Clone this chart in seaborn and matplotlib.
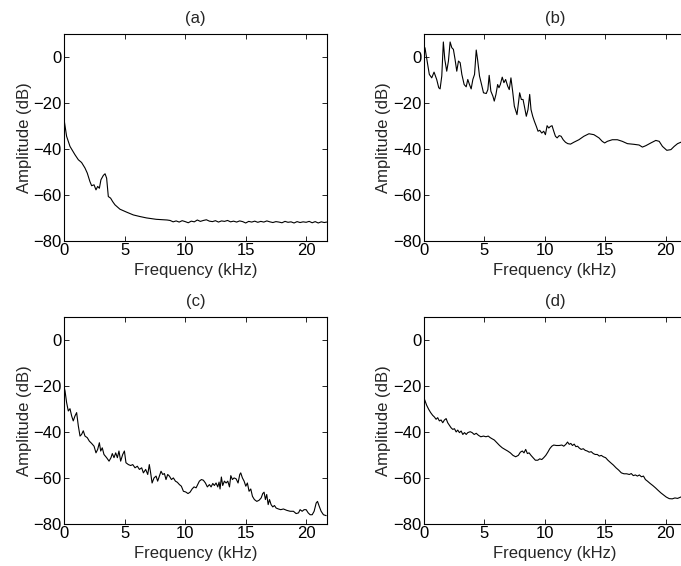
import matplotlib
matplotlib.use("Agg")
import matplotlib.pyplot as plt
import seaborn as sns
import pandas as pd

# ---------------- data ----------------
freq_a = [0, 0.19, 0.47, 0.88, 1.16, 1.43, 1.71, 1.9, 2.12, 2.26, 2.46, 2.62, 2.76, 2.9,
          3.03, 3.23, 3.37, 3.5, 3.64, 3.83, 4.0, 4.19, 4.6, 5.16, 5.71, 6.26, 6.8, 7.6, 8.5,
          8.75, 9.0, 9.25, 9.5, 9.75, 10.0, 10.25, 10.5, 10.75, 11.0, 11.25, 11.5, 11.75, 12.0,
          12.25, 12.5, 12.75, 13.0, 13.25, 13.5, 13.75, 14.0, 14.25, 14.5, 14.75, 15.0, 15.25,
          15.5, 15.75, 16.0, 16.25, 16.5, 16.75, 17.0, 17.25, 17.5, 17.75, 18.0, 18.25, 18.5,
          18.75, 19.0, 19.25, 19.5, 19.75, 20.0, 20.25, 20.5, 20.75, 21.0, 21.25, 21.5, 21.7]
amp_a = [-28, -34.6, -39, -42.6, -44.8, -46, -48.4, -50.6, -54.3, -56.1, -55.7, -57.9, -56.4, -57.2,
         -53.5, -51.6, -50.9, -52.8, -60.8, -61.5, -63, -64.4, -66.3, -67.6, -68.8, -69.5, -70.1, -70.7, -71,
         -71.2, -71.8, -71.4, -71.9, -71.3, -71.7, -72.2, -71.5, -71.8, -71.0, -71.6, -71.2, -70.9, -71.5,
         -71.7, -71.3, -71.9, -71.4, -71.6, -71.2, -71.8, -71.5, -71.9, -71.4, -71.7, -72.3, -71.6,
         -71.9, -71.5, -72.0, -71.6, -71.9, -71.4, -71.8, -72.1, -71.7, -71.9, -72.2, -71.6, -72.0,
         -71.8, -72.3, -71.7, -72.1, -71.8, -72.0, -71.6, -72.2, -71.7, -72.3, -71.8, -72.1, -71.9]

freq_b = [0, 0.08, 0.28, 0.44, 0.64, 0.83, 1.05, 1.22, 1.33, 1.47, 1.6, 1.72, 1.88, 2.02, 2.16, 2.3,
          2.43, 2.57, 2.71, 2.85, 2.99, 3.13, 3.32, 3.49, 3.62, 3.76, 3.9, 4.04, 4.18, 4.32, 4.43,
          4.59, 4.76, 4.92, 5.15, 5.28, 5.39, 5.53, 5.7, 5.81, 5.95, 6.09, 6.2, 6.31, 6.47, 6.61,
          6.75, 6.92, 7.05, 7.19, 7.33, 7.47, 7.69, 7.83, 7.91, 8.05, 8.19, 8.33, 8.46, 8.6, 8.74,
          8.85, 8.99, 9.13, 9.29, 9.43, 9.57, 9.74, 9.9, 10.04, 10.18, 10.32, 10.46, 10.59, 10.73,
          10.87, 11.01, 11.18, 11.34, 11.51, 11.7, 11.89, 12.12, 12.39, 12.81, 13.22, 13.64, 14.05,
          14.47, 14.74, 14.94, 15.16, 15.57, 15.99, 16.4, 16.82, 17.37, 17.79, 18.06, 18.34, 18.76,
          19.17, 19.45, 19.72, 20.08, 20.42, 20.69, 20.97, 21.24, 21.7]
amp_b = [2.0, 3.9, -2.6, -7.7, -9.2, -6.7, -9.9, -13.5, -14, -8.4, 6.4, -1.2, -6.3, -1.9, 6.4, 3.9,
         3.2, -1.2, -6.3, -1.9, -2.6, -7.7, -12.1, -13.1, -9.9, -12.1, -14, -9.9, -7.7, 2.9, -1.2,
         -8.4, -12.1, -15.7, -16, -14.3, -8.1, -15, -17.2, -19.3, -16.4, -12.1, -13.5, -12.1, -8.9, -11.3,
         -9.9, -12.8, -14.3, -9.2, -15, -21.5, -25.2, -19.3, -15.7, -18.6, -18.6, -22.3, -25.9, -23, -16.4,
         -23, -25.9, -28.1, -30.3, -32.4, -32, -33.2, -32.4, -33.9, -30, -31, -30.3, -30, -32.4,
         -34.6, -35.3, -34.3, -34.6, -36.1, -37.2, -37.8, -38, -37.2, -36.1, -34.6, -33.5, -33.9,
         -35.3, -36.8, -37.5, -36.8, -36.1, -36.1, -36.8, -37.8, -38.1, -38.4, -39.3, -38.7, -37.5,
         -36.4, -36.8, -39, -40.7, -40.4, -39, -37.8, -37.2, -36.5]

freq_c = [0, 0.06, 0.19, 0.33, 0.47, 0.61, 0.74, 0.88, 1.02, 1.16, 1.3, 1.43, 1.57, 1.71, 1.9, 2.07,
          2.26, 2.46, 2.62, 2.76, 2.9, 3.01, 3.14, 3.28, 3.5, 3.7, 3.86, 3.97, 4.11, 4.25, 4.39,
          4.52, 4.66, 4.83, 4.97, 5.1, 5.3, 5.49, 5.66, 5.85, 6.04, 6.21, 6.4, 6.54, 6.73, 6.9,
          7.03, 7.14, 7.26, 7.42, 7.59, 7.72, 7.86, 8.0, 8.14, 8.28, 8.41, 8.55, 8.69, 8.86, 9.02,
          9.19, 9.35, 9.52, 9.68, 9.85, 10.04, 10.23, 10.4, 10.57, 10.73, 10.9, 11.03, 11.17, 11.34,
          11.5, 11.67, 11.83, 12.0, 12.14, 12.28, 12.41, 12.55, 12.69, 12.8, 12.88, 12.99, 13.1,
          13.24, 13.38, 13.52, 13.66, 13.77, 13.9, 14.04, 14.21, 14.37, 14.51, 14.59, 14.73, 14.87,
          15.01, 15.14, 15.28, 15.42, 15.56, 15.72, 15.92, 16.11, 16.28, 16.41, 16.52, 16.63, 16.74,
          16.86, 16.97, 17.1, 17.24, 17.38, 17.52, 17.71, 17.9, 18.12, 18.4, 18.68, 18.95, 19.17,
          19.37, 19.5, 19.67, 19.83, 20.0, 20.17, 20.33, 20.5, 20.66, 20.83, 20.94, 21.08, 21.24,
          21.43, 21.66]
amp_c = [-21, -22.3, -27.3, -31, -30, -33.2, -35.3, -33.2, -31.7, -37.5, -41.9, -41.2, -39.6, -41.9,
         -42.6, -44.1, -45.1, -46.3, -49.2, -47.7, -44.8, -48.4, -47, -49.9, -51.3, -52.8, -51.3,
         -49.5, -51.3, -49.2, -51.3, -48.4, -52.8, -49.9, -48.4, -53.5, -54.3, -54.7, -54.3, -55.7,
         -55, -56.4, -55.7, -57.9, -56.4, -58.6, -54.3, -57.9, -62.3, -60.1, -59.3, -61.5, -59.3,
         -57.2, -58.6, -58.2, -60.8, -58.6, -59.3, -60.8, -60.1, -61.5, -62, -63, -63.7, -65.9,
         -66.2, -66.9, -66.3, -64.9, -64, -64.4, -63, -61.5, -60.8, -61.1, -62.3, -64, -63, -64,
         -62.5, -63.4, -62.3, -64, -61.9, -64.9, -59.7, -63.4, -61.5, -62.3, -61.5, -64, -59.1,
         -60.8, -60.1, -60.5, -62.3, -58.6, -57.9, -60.1, -61.5, -63.7, -62.3, -65.9, -64.9, -68.1,
         -69.5, -70.3, -69.8, -68.8, -66.9, -66.3, -69.5, -67.3, -71.7, -69.5, -71.7, -72.7, -72.1,
         -73.2, -73.6, -73.9, -73.6, -74.2, -74.6, -74.6, -75.6, -75.3, -73.9, -74.6, -73.9, -73.9,
         -75.3, -76.1, -76.1, -74.6, -71, -70.3, -72.4, -74.6, -76.1, -76.5]

freq_d = [0, 0.06, 0.22, 0.39, 0.55, 0.72, 0.86, 1.0, 1.13, 1.27, 1.41, 1.55, 1.69, 1.83, 1.96, 2.1,
          2.24, 2.38, 2.52, 2.66, 2.79, 2.93, 3.07, 3.21, 3.35, 3.49, 3.62, 3.82, 3.98, 4.15, 4.32,
          4.51, 4.7, 4.92, 5.12, 5.31, 5.48, 5.64, 5.81, 6.03, 6.25, 6.47, 6.69, 6.92, 7.14, 7.36,
          7.58, 7.8, 7.97, 8.13, 8.27, 8.41, 8.55, 8.69, 8.85, 9.02, 9.21, 9.41, 9.57, 9.74, 9.9,
          10.07, 10.24, 10.4, 10.57, 10.73, 10.95, 11.18, 11.4, 11.56, 11.73, 11.87, 12.01, 12.14,
          12.28, 12.42, 12.56, 12.7, 12.84, 13.0, 13.17, 13.33, 13.5, 13.66, 13.83, 14.0, 14.16,
          14.33, 14.5, 14.66, 14.83, 15.02, 15.21, 15.44, 15.66, 15.88, 16.1, 16.32, 16.54, 16.76,
          16.98, 17.14, 17.31, 17.48, 17.65, 17.81, 17.98, 18.15, 18.31, 18.48, 18.7, 18.92, 19.14,
          19.36, 19.59, 19.81, 20.03, 20.28, 20.53, 20.75, 20.97, 21.24, 21.7]
amp_d = [-25.5, -26.2, -28.5, -30.3, -31.7, -32.9, -33.6, -34.6, -33.9, -35.3, -34.9, -36.1, -34.9,
         -34.3, -36.1, -37.2, -38.3, -39, -38.7, -40.1, -39.3, -40.4, -39.7, -41.2, -40.4, -41.2,
         -40.4, -40, -40.4, -41.2, -40.7, -41.6, -42.2, -41.9, -42.2, -41.9, -42.6, -43.1, -43.6,
         -44.8, -46, -47, -47.7, -48.4, -49.2, -50.3, -50.9, -50.3, -48.9, -48.4, -49.2, -47.7,
         -49.5, -49.2, -50.3, -51.3, -52.4, -52.4, -51.8, -52.1, -51.3, -50.3, -48.9, -47.4, -46.3,
         -45.8, -46, -46, -45.8, -46.3, -45.5, -44.5, -45.5, -45.1, -46, -45.4, -46.5, -46.3, -47.1,
         -47.7, -47.4, -48.1, -48.4, -48.9, -48.7, -49.5, -49.9, -49.9, -50.6, -50.3, -50.9, -51.3,
         -52.4, -53.5, -54.5, -55.7, -56.7, -57.9, -58.3, -58.3, -58.6, -58.2, -59.1, -58.8, -59.3,
         -58.8, -59.6, -59.3, -60.8, -61.5, -62.5, -63.4, -64.4, -65.5, -66.6, -67.5, -68.4, -69.1,
         -69.2, -68.8, -69, -68.4, -68.0]

panel_titles = ["(a)", "(b)", "(c)", "(d)"]
x_ticks = [0, 5, 10, 15, 20]
y_ticks = [-80, -60, -40, -20, 0]

# ---------------- plotting ----------------
sns.set_theme(style="ticks")
plt.rcParams["font.family"] = ["Liberation Sans", "DejaVu Sans"]
plt.rcParams["axes.unicode_minus"] = True

W, H = 681, 566
fig = plt.figure(figsize=(W / 100, H / 100), dpi=100)

# axes boxes in pixels: (left, top, width, height)
boxes = [(64.3, 33.7, 262.4, 207.0), (424.0, 33.7, 262.4, 207.0),
         (64.3, 316.7, 262.4, 207.0), (424.0, 316.7, 262.4, 207.0)]
series = [(freq_a, amp_a), (freq_b, amp_b), (freq_c, amp_c), (freq_d, amp_d)]

FS = 12
for (l, t, w, h), (fx, ay), title in zip(boxes, series, panel_titles):
    ax = fig.add_axes([l / W, (H - t - h) / H, w / W, h / H])
    df = pd.DataFrame({"Frequency": fx, "Amplitude": ay})
    sns.lineplot(data=df, x="Frequency", y="Amplitude", ax=ax, color="black",
                 linewidth=0.8, estimator=None, sort=False)
    ax.set_xlim(0, 21.7)
    ax.set_ylim(-80, 10)
    ax.set_xticks(x_ticks)
    ax.set_yticks(y_ticks)
    ax.set_xlabel("Frequency (kHz)", fontsize=FS, labelpad=3.5)
    ax.set_ylabel("Amplitude (dB)", fontsize=FS, labelpad=1)
    ax.set_title(title, fontsize=FS, pad=8)
    ax.tick_params(direction="in", length=3.5, width=0.6, labelsize=FS,
                   top=True, right=True, pad=2, colors="black")
    for s in ax.spines.values():
        s.set_visible(True)
        s.set_linewidth(0.8)
        s.set_color("black")
    ax.grid(False)

fig.savefig("out.png", dpi=100, facecolor="white")
